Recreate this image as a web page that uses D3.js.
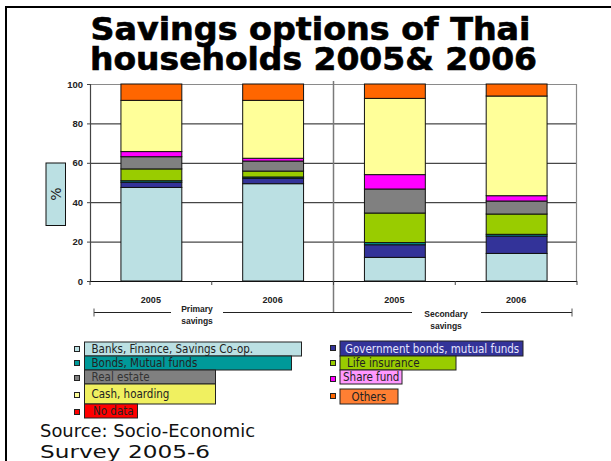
<!DOCTYPE html>
<html>
<head>
<meta charset="utf-8">
<script src="https://cdn.jsdelivr.net/npm/d3@7"></script>
<style>
  html, body { margin: 0; padding: 0; background: #fff; }
  svg { display: block; }
</style>
</head>
<body>
<svg id="chart" width="611" height="461"></svg>
<script>
// Categories along the x axis (two groups of two years)
const categories = ["P2005", "P2006", "S2005", "S2006"];
const categoryLabels = ["2005", "2006", "2005", "2006"];
const groups = [
  { name: ["Primary", "savings"], first: 0, last: 1 },
  { name: ["Secondary", "savings"], first: 2, last: 3 }
];

// Series, bottom of the stack first (percent of households)
const seriesNames = [
  "Banks, Finance, Savings Co-op.",
  "Government bonds, mutual funds",
  "Bonds, Mutual funds",
  "Life insurance",
  "Real estate",
  "Share fund",
  "Cash, hoarding",
  "Others",
  "No data"
];
const banks       = [47.5, 49.4, 12.0, 14.0];
const govBonds    = [2.6, 2.7, 6.4, 8.8];
const bondsFunds  = [0.8, 0.7, 1.1, 0.9];
const lifeIns     = [6.0, 3.0, 15.0, 10.3];
const realEstate  = [6.2, 5.1, 12.2, 6.6];
const shareFund   = [2.6, 1.4, 7.3, 2.7];
const cashHoard   = [26.0, 29.4, 38.7, 50.6];
const others      = [8.3, 8.3, 7.3, 6.1];
const noData      = [0, 0, 0, 0];
const seriesValues = [banks, govBonds, bondsFunds, lifeIns, realEstate, shareFund, cashHoard, others, noData];

const yTicks = [0, 20, 40, 60, 80, 100];

// Fill colours for each series
const barColors = ["#BBE0E3", "#333399", "#009999", "#99CC00", "#808080", "#FF00FF", "#FFFF99", "#FF6600", "#FF0000"];
// Legend text-box styling (fill, text colour)
const legendBoxFill = ["#BBE0E3", "#333399", "#009999", "#99CC00", "#808080", "#FF99FF", "#F0F060", "#FF7F33", "#FF0000"];
const legendTextColor = ["#222", "#E6E6FF", "#222", "#222", "#333", "#222", "#222", "#222", "#222"];

const svg = d3.select("#chart");

// Slide frame
svg.append("line").attr("x1", 6).attr("x2", 6).attr("y1", 6).attr("y2", 461)
  .attr("stroke", "#000").attr("stroke-width", 2);
svg.append("line").attr("x1", 5).attr("x2", 611).attr("y1", 7).attr("y2", 7)
  .attr("stroke", "#000").attr("stroke-width", 2);

// Title
const title = svg.append("g").attr("font-family", "'DejaVu Sans Condensed', 'DejaVu Sans', sans-serif")
  .attr("font-weight", "bold").attr("font-size", 32).attr("fill", "#000")
  .attr("stroke", "#000").attr("stroke-width", 0.6);
title.append("text").attr("x", 90.5).attr("y", 39.5)
  .attr("textLength", 440).attr("lengthAdjust", "spacingAndGlyphs")
  .text("Savings options of Thai");
title.append("text").attr("x", 90).attr("y", 70)
  .attr("textLength", 447).attr("lengthAdjust", "spacingAndGlyphs")
  .text("households 2005& 2006");

// Plot area
const plot = { left: 90, right: 577, top: 84, bottom: 281 };
const x = d3.scaleBand().domain(categories).range([plot.left, plot.right])
  .paddingInner(0.5).paddingOuter(0.25);
const y = d3.scaleLinear().domain([0, 100]).range([plot.bottom, plot.top]);

// Horizontal gridlines
svg.append("g").selectAll("line").data(yTicks.filter(t => t > 0 && t < 100)).join("line")
  .attr("x1", plot.left).attr("x2", plot.right)
  .attr("y1", d => y(d) + 0.5).attr("y2", d => y(d) + 0.5)
  .attr("stroke", "#1a1a1a").attr("stroke-width", 1);
// Plot border top and right
svg.append("path")
  .attr("d", `M${plot.left},${y(100) + 0.5}H${plot.right - 0.5}V${plot.bottom}`)
  .attr("fill", "none").attr("stroke", "#8a8a8a").attr("stroke-width", 1.2);

// Group divider between primary and secondary savings
const step = x.step();
const divX = x(categories[groups[1].first]) - (step - x.bandwidth()) / 2;
svg.append("line").attr("x1", divX).attr("x2", divX).attr("y1", 81).attr("y2", 313)
  .attr("stroke", "#7a7a7a").attr("stroke-width", 1.5);

// Stacked bars
const table = categories.map((c, i) => {
  const row = { cat: c };
  seriesNames.forEach((s, j) => row[s] = seriesValues[j][i]);
  return row;
});
const stacked = d3.stack().keys(seriesNames)(table);
svg.append("g").selectAll("g").data(stacked).join("g")
  .attr("fill", (d, i) => barColors[i])
  .selectAll("rect").data(d => d.filter(v => v[1] - v[0] > 0)).join("rect")
  .attr("x", d => x(d.data.cat) + 0.5)
  .attr("width", x.bandwidth())
  .attr("y", d => y(d[1]))
  .attr("height", d => y(d[0]) - y(d[1]))
  .attr("stroke", "#111").attr("stroke-width", 1);

// Y axis
const yAxis = svg.append("g").attr("transform", `translate(${plot.left},0)`)
  .call(d3.axisLeft(y).tickValues(yTicks).tickSize(3).tickPadding(4));
yAxis.select(".domain").attr("stroke", "#444").attr("stroke-width", 1.2);
yAxis.selectAll(".tick line").attr("stroke", "#444");
yAxis.selectAll("text").attr("font-family", "'Liberation Sans', Arial, sans-serif")
  .attr("font-weight", "bold").attr("font-size", 9.5).attr("fill", "#222");

// X axis line with category ticks at band edges
svg.append("line").attr("x1", plot.left).attr("x2", plot.right)
  .attr("y1", plot.bottom + 0.5).attr("y2", plot.bottom + 0.5)
  .attr("stroke", "#111").attr("stroke-width", 1.2);
const edges = categories.map(c => x(c) - (step - x.bandwidth()) / 2).concat([plot.right]);
svg.append("g").selectAll("line").data(edges).join("line")
  .attr("x1", d => d).attr("x2", d => d).attr("y1", plot.bottom).attr("y2", plot.bottom + 4)
  .attr("stroke", "#444").attr("stroke-width", 1);
svg.append("g").selectAll("text").data(categories).join("text")
  .attr("x", d => x(d) + x.bandwidth() / 2).attr("y", 303)
  .attr("text-anchor", "middle")
  .attr("font-family", "'Liberation Sans', Arial, sans-serif").attr("font-weight", "bold")
  .attr("font-size", 9).attr("fill", "#222")
  .text((d, i) => categoryLabels[i]);

// Group brackets below the axis
const bracketY = 312.5;
const bracketLeft = 94, bracketRight = 572;
const groupLabelPos = [{ cx: 197, y: 312, gap: [171, 223] }, { cx: 446, y: 317, gap: [412, 481] }];
const br = svg.append("g").attr("stroke", "#222").attr("stroke-width", 1);
br.append("line").attr("x1", bracketLeft).attr("x2", groupLabelPos[0].gap[0]).attr("y1", bracketY).attr("y2", bracketY);
br.append("line").attr("x1", groupLabelPos[0].gap[1]).attr("x2", groupLabelPos[1].gap[0]).attr("y1", bracketY).attr("y2", bracketY);
br.append("line").attr("x1", groupLabelPos[1].gap[1]).attr("x2", bracketRight).attr("y1", bracketY).attr("y2", bracketY);
br.append("line").attr("x1", bracketLeft).attr("x2", bracketLeft).attr("y1", bracketY - 4).attr("y2", bracketY + 4).attr("stroke", "#555");
br.append("line").attr("x1", bracketRight).attr("x2", bracketRight).attr("y1", bracketY - 4).attr("y2", bracketY + 4).attr("stroke", "#555");
groups.forEach((g, i) => {
  const t = svg.append("text").attr("text-anchor", "middle")
    .attr("font-family", "'Liberation Sans', Arial, sans-serif").attr("font-weight", "bold")
    .attr("font-size", 8.5).attr("fill", "#222");
  g.name.forEach((line, k) => {
    t.append("tspan").attr("x", groupLabelPos[i].cx).attr("y", groupLabelPos[i].y + k * 12).text(line);
  });
});

// Y axis title box
svg.append("rect").attr("x", 46).attr("y", 163).attr("width", 19.5).attr("height", 62.5)
  .attr("fill", "#BBE0E3").attr("stroke", "#111").attr("stroke-width", 1);
svg.append("text").attr("transform", "translate(60.5,194) rotate(-90)")
  .attr("text-anchor", "middle").attr("font-family", "'DejaVu Sans', sans-serif")
  .attr("font-size", 14).attr("fill", "#222").text("%");

// Legend: two columns filled row by row
const legendLayout = [
  { mx: 74, my: 349, bx: 84.5, by: 342, bw: 217, bh: 14, tx: 91.5 },
  { mx: 330, my: 348, bx: 340, by: 341, bw: 183, bh: 15, tx: 345 },
  { mx: 74, my: 363, bx: 84.5, by: 356, bw: 207, bh: 14, tx: 91.5 },
  { mx: 330, my: 363, bx: 340, by: 356, bw: 116, bh: 14, tx: 347 },
  { mx: 74, my: 378, bx: 84.5, by: 370, bw: 131, bh: 14, tx: 91.5 },
  { mx: 330, my: 379, bx: 340, by: 370, bw: 62, bh: 14, tx: 343 },
  { mx: 74, my: 395, bx: 84.5, by: 384, bw: 131, bh: 20, tx: 91.5 },
  { mx: 330, my: 396, bx: 340, by: 389, bw: 58, bh: 15, tx: 351.5 },
  { mx: 74, my: 412, bx: 84.5, by: 404, bw: 53, bh: 14, tx: 93 }
];
const legend = svg.append("g");
seriesNames.forEach((name, i) => {
  const L = legendLayout[i];
  legend.append("rect").attr("x", L.mx + 0.5).attr("y", L.my - 2.5).attr("width", 5).attr("height", 5)
    .attr("fill", barColors[i]).attr("stroke", "#222").attr("stroke-width", 1);
  legend.append("rect").attr("x", L.bx).attr("y", L.by).attr("width", L.bw).attr("height", L.bh)
    .attr("fill", legendBoxFill[i]).attr("stroke", "#222").attr("stroke-width", 1);
  legend.append("text").attr("x", L.tx).attr("y", L.by + L.bh / 2 + 4)
    .attr("font-family", "'DejaVu Sans Condensed', 'DejaVu Sans', sans-serif")
    .attr("font-size", 11.5).attr("fill", legendTextColor[i]).text(name);
});

// Source note
const src = svg.append("g").attr("font-family", "'DejaVu Sans', sans-serif")
  .attr("font-size", 17.5).attr("fill", "#111");
src.append("text").attr("x", 40).attr("y", 437).attr("textLength", 215)
  .attr("lengthAdjust", "spacingAndGlyphs").text("Source: Socio-Economic");
src.append("text").attr("x", 40).attr("y", 458).attr("textLength", 170)
  .attr("lengthAdjust", "spacingAndGlyphs").text("Survey 2005-6");
</script>
</body>
</html>
